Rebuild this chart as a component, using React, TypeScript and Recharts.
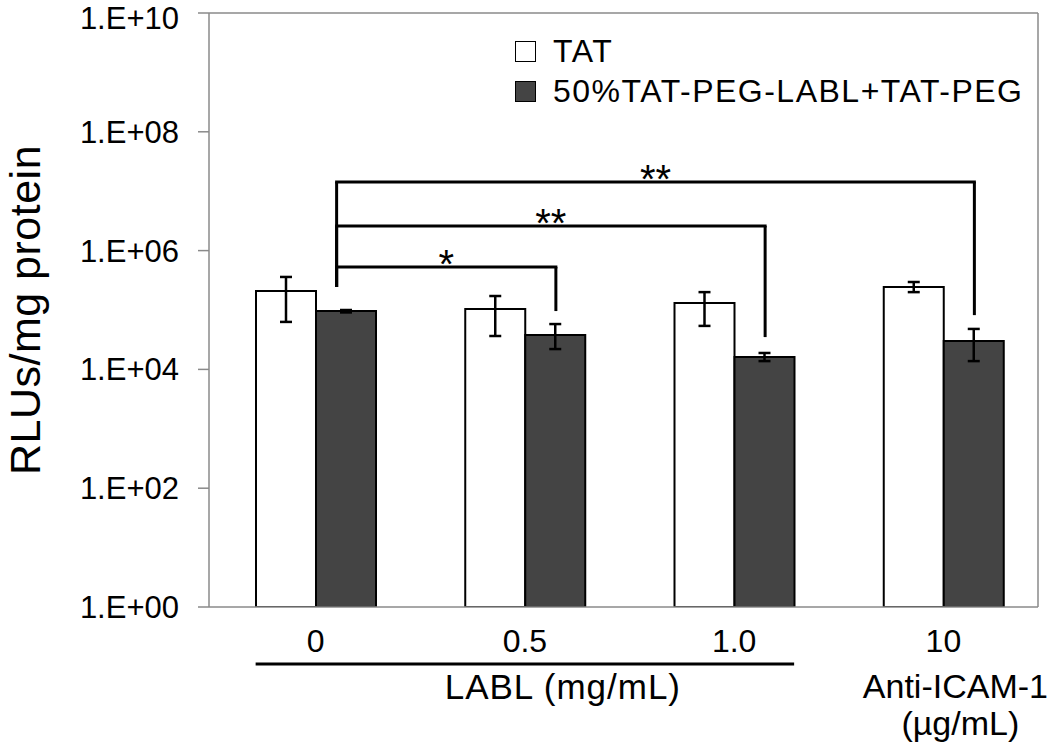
import React from "react";
import {
  BarChart,
  Bar,
  XAxis,
  YAxis,
  ErrorBar,
  ReferenceLine,
  CartesianGrid,
} from "recharts";

const FONT = '"Liberation Sans", Arial, sans-serif';
const AXIS_GREY = "#8a8a8a";

// categories
const groups = ["0", "0.5", "1.0", "10"];

// TAT (white bars)
const tatMean = [2.09e5, 1.04e5, 1.31e5, 2.44e5];
const tatLow = [6.3e4, 3.65e4, 5.4e4, 2.0e5];
const tatHigh = [3.6e5, 1.72e5, 2.0e5, 2.96e5];

// 50%TAT-PEG-LABL+TAT-PEG (dark bars)
const pegMean = [9.6e4, 3.8e4, 1.62e4, 3.0e4];
const pegLow = [9.1e4, 2.2e4, 1.38e4, 1.38e4];
const pegHigh = [1.0e5, 5.8e4, 1.89e4, 4.8e4];

const yTicks = [1, 1e2, 1e4, 1e6, 1e8, 1e10];

// significance brackets (from group "0" to target group)
const sigTargets = ["0.5", "1.0", "10"];
const sigLabels = ["*", "**", "**"];
const sigLevel = [5.3e5, 2.6e6, 1.43e7];
const sigDrop = [9.6e4, 3.5e4, 8.2e4];
const sigStartFoot = 2.44e5;

const seriesNames = ["TAT", "50%TAT-PEG-LABL+TAT-PEG"];
const seriesFills = ["#ffffff", "#444444"];

const data = groups.map((g, i) => ({
  group: g,
  tat: tatMean[i],
  tatErr: [tatMean[i] - tatLow[i], tatHigh[i] - tatMean[i]],
  peg: pegMean[i],
  pegErr: [pegMean[i] - pegLow[i], pegHigh[i] - pegMean[i]],
}));

const BAR_SIZE = 60;
const BAND = 209.25;
// bracket ends sit a little off the category centre
const LEFT_DX = 21;
const RIGHT_DX = 31;

const fmtTick = (v: number) => {
  const e = Math.round(Math.log10(v));
  return `1.E+${e < 10 ? "0" + e : e}`;
};

function GroupTick(props: any) {
  const { x, y, payload } = props;
  const v = payload.value;
  return (
    <g fontFamily={FONT} fill="#000">
      <text x={x} y={y + 45} textAnchor="middle" fontSize={32}>
        {v}
      </text>
      {v === "0.5" && (
        <>
          <line
            x1={x - BAND - BAR_SIZE}
            x2={x + BAND + BAR_SIZE}
            y1={y + 57}
            y2={y + 57}
            stroke="#000"
            strokeWidth={3}
          />
          <text
            x={x + 38}
            y={y + 92}
            textAnchor="middle"
            fontSize={35}
            letterSpacing={1}
          >
            LABL (mg/mL)
          </text>
        </>
      )}
      {v === "10" && (
        <>
          <text x={x + 12} y={y + 91} textAnchor="middle" fontSize={34}>
            Anti-ICAM-1
          </text>
          <text x={x + 17} y={y + 128} textAnchor="middle" fontSize={34}>
            (µg/mL)
          </text>
        </>
      )}
    </g>
  );
}

function YTitle(props: any) {
  const { viewBox } = props;
  const cx = viewBox.x + 40;
  const cy = viewBox.y + viewBox.height / 2;
  return (
    <text
      x={cx}
      y={cy}
      transform={`rotate(-90, ${cx}, ${cy})`}
      textAnchor="middle"
      fontSize={43}
      fontFamily={FONT}
      letterSpacing={0.5}
      fill="#000"
    >
      RLUs/mg protein
    </text>
  );
}

function LegendBox() {
  return (
    <div
      style={{
        position: "absolute",
        left: 515,
        top: 31,
        fontFamily: FONT,
        fontSize: 32,
        letterSpacing: 1.5,
        color: "#000",
      }}
    >
      {seriesNames.map((n, i) => (
        <div
          key={n}
          style={{ display: "flex", alignItems: "center", height: 40, whiteSpace: "nowrap" }}
        >
          <span
            style={{
              display: "inline-block",
              width: 19,
              height: 19,
              border: "1.5px solid #000",
              background: seriesFills[i],
              marginRight: 17,
            }}
          />
          <span>{n}</span>
        </div>
      ))}
    </div>
  );
}

const bracketSeg = (dx1: number, dx2: number, label?: string) => (p: any) => {
  const x1 = p.x1 + dx1;
  const x2 = p.x2 + dx2;
  return (
    <g>
      <line x1={x1} y1={p.y1} x2={x2} y2={p.y2} stroke="#000" strokeWidth={3} />
      {label && (
        <text
          x={(x1 + x2) / 2}
          y={p.y1 + 11}
          textAnchor="middle"
          fontSize={40}
          fontFamily={FONT}
          fill="#000"
        >
          {label}
        </text>
      )}
    </g>
  );
};

export default function App() {
  return (
    <div style={{ position: "absolute", left: 0, top: 0, background: "#fff" }}>
      <BarChart
        width={1050}
        height={755}
        data={data}
        margin={{ top: 13, right: 12, bottom: 0, left: 0 }}
        barGap={0}
        barSize={BAR_SIZE}
      >
        <CartesianGrid
          stroke={AXIS_GREY}
          strokeWidth={1.5}
          horizontalCoordinatesGenerator={({ offset }: any) => [offset.top]}
          verticalCoordinatesGenerator={({ offset }: any) => [offset.left + offset.width]}
        />
        <XAxis
          dataKey="group"
          height={148}
          padding={{ left: 2, right: -10 }}
          tickLine={false}
          tickSize={0}
          tickMargin={0}
          axisLine={{ stroke: AXIS_GREY, strokeWidth: 1.5 }}
          tick={<GroupTick />}
          interval={0}
        />
        <YAxis
          scale="log"
          domain={[1, 1e10]}
          ticks={yTicks}
          allowDataOverflow
          width={209}
          tickSize={11}
          tickMargin={19}
          tickFormatter={fmtTick}
          tick={{ fill: "#000", fontSize: 31, fontFamily: FONT }}
          tickLine={{ stroke: AXIS_GREY, strokeWidth: 1.5 }}
          axisLine={{ stroke: AXIS_GREY, strokeWidth: 1.5 }}
          label={(p: any) => <YTitle {...p} />}
        />
        <Bar
          dataKey="tat"
          name={seriesNames[0]}
          fill={seriesFills[0]}
          stroke="#000"
          strokeWidth={2}
          isAnimationActive={false}
        >
          <ErrorBar dataKey="tatErr" width={6} stroke="#000" strokeWidth={2.5} />
        </Bar>
        <Bar
          dataKey="peg"
          name={seriesNames[1]}
          fill={seriesFills[1]}
          stroke="#000"
          strokeWidth={2}
          isAnimationActive={false}
        >
          <ErrorBar dataKey="pegErr" width={6} stroke="#000" strokeWidth={2.5} />
        </Bar>
        {sigTargets.map((t, i) => (
          <React.Fragment key={i}>
            <ReferenceLine
              ifOverflow="visible"
              segment={[
                { x: groups[0], y: sigStartFoot },
                { x: groups[0], y: sigLevel[i] },
              ]}
              shape={bracketSeg(LEFT_DX, LEFT_DX)}
            />
            <ReferenceLine
              ifOverflow="visible"
              segment={[
                { x: groups[0], y: sigLevel[i] },
                { x: t, y: sigLevel[i] },
              ]}
              shape={bracketSeg(LEFT_DX - 1.5, RIGHT_DX + 1.5, sigLabels[i])}
            />
            <ReferenceLine
              ifOverflow="visible"
              segment={[
                { x: t, y: sigLevel[i] },
                { x: t, y: sigDrop[i] },
              ]}
              shape={bracketSeg(RIGHT_DX, RIGHT_DX)}
            />
          </React.Fragment>
        ))}
      </BarChart>
      <LegendBox />
    </div>
  );
}
